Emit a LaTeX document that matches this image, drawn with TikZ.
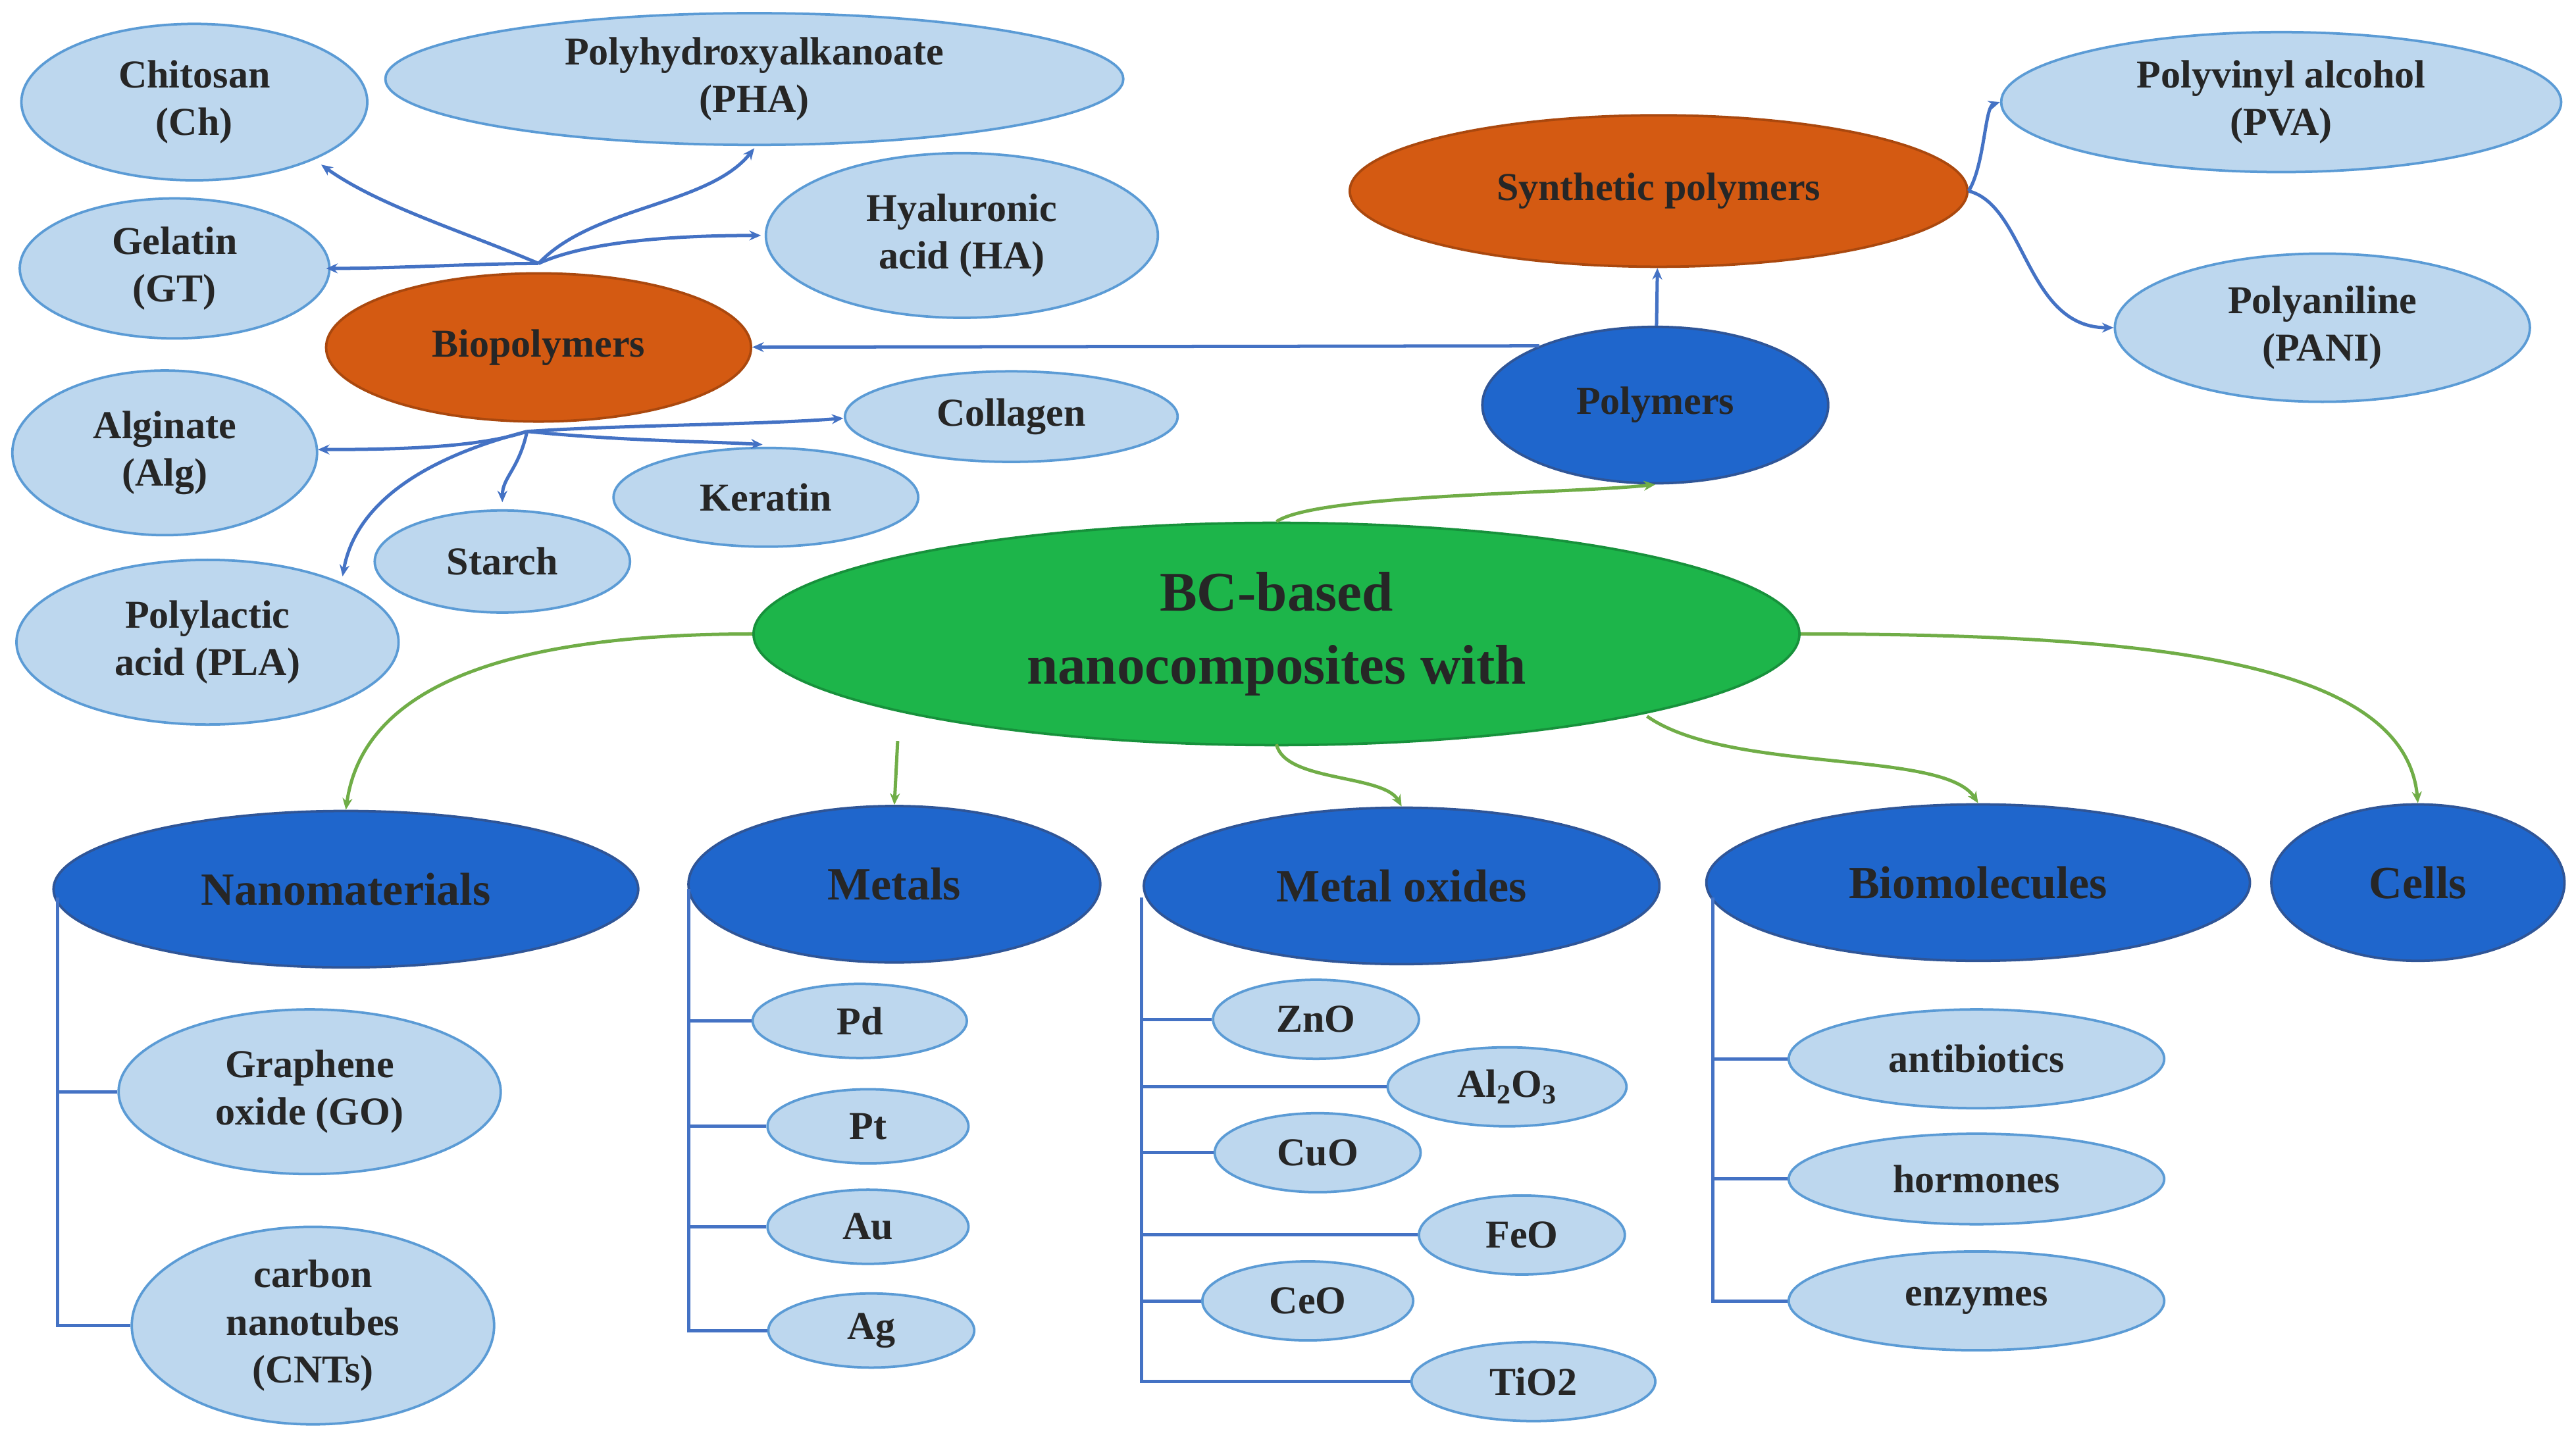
\documentclass[tikz,border=0pt]{standalone}
\usepackage{fontspec}
\setmainfont{Liberation Serif}
\usetikzlibrary{arrows.meta,shapes.geometric}
\definecolor{lb}{HTML}{BDD7EE}
\definecolor{lbd}{HTML}{5B9BD5}
\definecolor{db}{HTML}{1F66CC}
\definecolor{dbd}{HTML}{2F5597}
\definecolor{og}{HTML}{D45A12}
\definecolor{gr}{HTML}{1DB54A}
\definecolor{cArr}{HTML}{4472C4}
\definecolor{cGrA}{HTML}{70AD47}
\begin{document}
\begin{tikzpicture}[x=1pt,y=-1pt,
 base/.style={ellipse,draw,line width=1.5pt,align=center,inner sep=0pt,font=\fontsize{24}{29}\selectfont\bfseries},
 lt/.style={base,fill=lb,draw=lbd,text=black!85},
 dk/.style={base,fill=db,draw=dbd,text=black!85,font=\fontsize{28}{33}\selectfont\bfseries},
 orn/.style={base,fill=og,draw=og!80!black,text=black!85},
 barr/.style={-{Stealth[length=7pt,width=6pt]},line width=2pt,draw=cArr},
 garr/.style={-{Stealth[length=7pt,width=6pt]},line width=2pt,draw=cGrA},
 brk/.style={line width=2pt,draw=cArr}]
\useasboundingbox (0,0) rectangle (1564,875);
\newcommand{\E}[7]{\node[#1,minimum width=#4pt,minimum height=#5pt] (#6) at (#2,#3) {#7};}
\E{lt}{118}{62}{210}{95}{ch}{Chitosan\\(Ch)}
\E{lt}{458}{48}{448}{80}{pha}{Polyhydroxyalkanoate\\(PHA)}
\E{lt}{584}{143}{238}{100}{ha}{Hyaluronic\\acid (HA)}
\E{lt}{106}{163}{188}{85}{gt}{Gelatin\\(GT)}
\E{orn}{327}{211}{258}{90}{bio}{Biopolymers}
\E{lt}{100}{275}{185}{100}{alg}{Alginate\\(Alg)}
\E{lt}{614}{253}{202}{55}{col}{Collagen}
\E{lt}{465}{302}{185}{60}{ker}{Keratin}
\E{lt}{305}{341}{155}{62}{sta}{Starch}
\E{lt}{126}{390}{232}{100}{pla}{Polylactic\\acid (PLA)}
\E{orn}{1007}{116}{375}{92}{syn}{Synthetic polymers}
\E{lt}{1385}{62}{340}{85}{pva}{Polyvinyl alcohol\\(PVA)}
\E{lt}{1410}{199}{252}{90}{pani}{Polyaniline\\(PANI)}
\node[dk,minimum width=210pt,minimum height=95pt,font=\fontsize{24}{29}\selectfont\bfseries] (pol) at (1005,246) {Polymers};
\node[base,fill=gr,draw=gr!80!black,minimum width=635pt,minimum height=135pt,font=\fontsize{34}{44}\selectfont\bfseries,text=black!85] (bc) at (775,385) {BC-based\\nanocomposites with};
\E{dk}{210}{540}{355}{95}{nano}{Nanomaterials}
\E{dk}{543}{537}{250}{95}{met}{Metals}
\E{dk}{851}{538}{313}{95}{mox}{Metal oxides}
\E{dk}{1201}{536}{330}{95}{biom}{Biomolecules}
\E{dk}{1468}{536}{178}{95}{cel}{Cells}
\E{lt}{188}{663}{232}{100}{go}{Graphene\\oxide (GO)}
\E{lt}{190}{805}{220}{120}{cnt}{carbon\\nanotubes\\(CNTs)}
\E{lt}{522}{620}{130}{45}{pd}{Pd}
\E{lt}{527}{684}{122}{45}{pt}{Pt}
\E{lt}{527}{745}{122}{45}{au}{Au}
\E{lt}{529}{808}{125}{45}{ag}{Ag}
\E{lt}{799}{619}{125}{48}{zno}{ZnO}
\E{lt}{915}{660}{145}{48}{al}{Al$_\mathbf{2}$O$_\mathbf{3}$}
\E{lt}{800}{700}{125}{48}{cuo}{CuO}
\E{lt}{924}{750}{125}{48}{feo}{FeO}
\E{lt}{794}{790}{128}{48}{ceo}{CeO}
\E{lt}{931}{839}{148}{48}{tio}{TiO2}
\E{lt}{1200}{643}{228}{60}{anti}{antibiotics}
\E{lt}{1200}{716}{228}{55}{hor}{hormones}
\E{lt}{1200}{790}{228}{60}{enz}{enzymes}
% biopolymer arrows
\coordinate (bt) at (327,160); \coordinate (bb) at (320,262);
\draw[barr] (bt) .. controls (280,140) and (230,125) .. (195,100);
\draw[barr] (bt) .. controls (360,125) and (430,125) .. (458,90);
\draw[barr] (bt) .. controls (360,145) and (420,143) .. (462,143);
\draw[barr] (bt) .. controls (290,160) and (240,163) .. (198,163);
\draw[barr] (bb) .. controls (290,272) and (240,273) .. (193,273);
\draw[barr] (bb) .. controls (380,258) and (460,258) .. (512,254);
\draw[barr] (bb) .. controls (380,268) and (430,268) .. (463,270);
\draw[barr] (bb) .. controls (315,285) and (305,290) .. (305,305);
\draw[barr] (bb) .. controls (250,280) and (215,310) .. (208,350);
\draw[barr] (pol.153) -- (bio);
\draw[barr] (pol) -- (syn);
\draw[barr] (syn.east) .. controls (1205,100) and (1205,65) .. (pva.west);
\draw[barr] (syn.east) .. controls (1230,125) and (1230,199) .. (pani.west);
% green
\draw[garr] (bc.north) .. controls (800,300) and (950,300) .. (pol.south);
\draw[garr] (bc.west) .. controls (300,385) and (220,420) .. (nano.north);
\draw[garr] (545,450) -- (met.north);
\draw[garr] (775,452) .. controls (780,475) and (840,470) .. (mox.north);
\draw[garr] (1000,435) .. controls (1050,470) and (1180,455) .. (biom.north);
\draw[garr] (bc.east) .. controls (1300,385) and (1460,400) .. (cel.north);
% brackets
\draw[brk] (35,545) -- (35,805) -- (cnt.west);
\draw[brk] (35,663) -- (go.west);
\draw[brk] (418,540) -- (418,808) -- (ag.west);
\foreach \n in {pd,pt,au} \draw[brk] (418,0 |- \n.west) -- (\n.west);
\draw[brk] (693,545) -- (693,839) -- (tio.west);
\foreach \n in {zno,al,cuo,feo,ceo} \draw[brk] (693,0 |- \n.west) -- (\n.west);
\draw[brk] (1040,545) -- (1040,790) -- (enz.west);
\foreach \n in {anti,hor} \draw[brk] (1040,0 |- \n.west) -- (\n.west);
\end{tikzpicture}
\end{document}
